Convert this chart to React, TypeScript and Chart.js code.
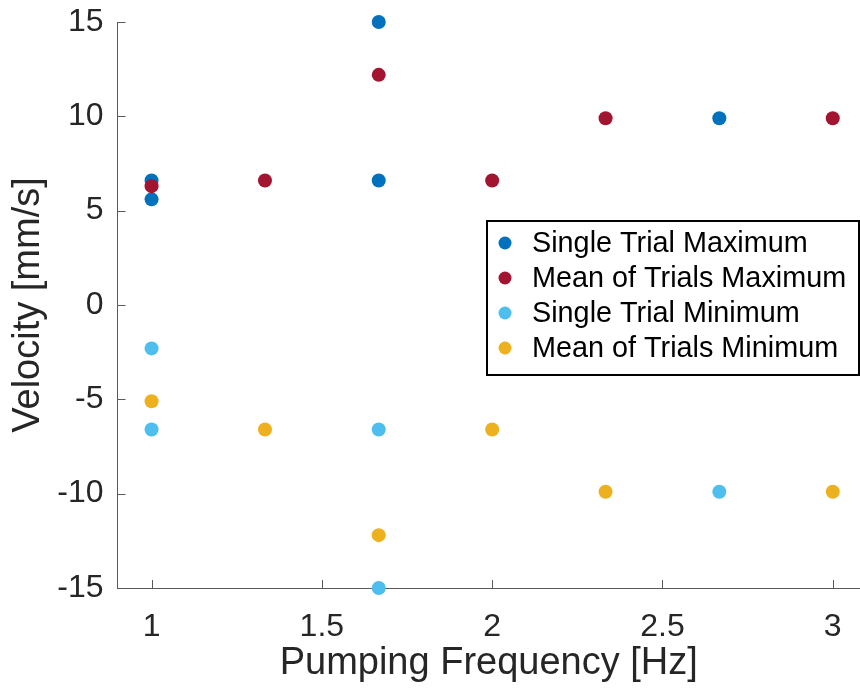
import React, { useEffect, useRef } from 'react';
import { Chart, registerables } from 'chart.js';

Chart.register(...registerables);

const seriesNames = [
  'Single Trial Maximum',
  'Mean of Trials Maximum',
  'Single Trial Minimum',
  'Mean of Trials Minimum',
];
const seriesColors = ['#0072BD', '#A2142F', '#4DBEEE', '#EDB120'];

const singleMaxX = [1, 1, 1.667, 1.667, 2.667];
const singleMaxY = [6.6, 5.6, 15, 6.6, 9.9];
const meanMaxX = [1, 1.333, 1.667, 2, 2.333, 3];
const meanMaxY = [6.3, 6.6, 12.2, 6.6, 9.9, 9.9];
const singleMinX = [1, 1, 1.667, 1.667, 2.667];
const singleMinY = [-2.3, -6.6, -6.6, -15, -9.9];
const meanMinX = [1, 1.333, 1.667, 2, 2.333, 3];
const meanMinY = [-5.1, -6.6, -12.2, -6.6, -9.9, -9.9];

const xTicks = [1, 1.5, 2, 2.5, 3];
const yTicks = [-15, -10, -5, 0, 5, 10, 15];

const xTitle = 'Pumping Frequency [Hz]';
const yTitle = 'Velocity [mm/s]';

const FONT = '"Liberation Sans", Arial, Helvetica, sans-serif';
const TEXT = '#262626';
const AXIS = '#595959';

const toPoints = (xs: number[], ys: number[]) => xs.map((x, i) => ({ x, y: ys[i] }));

const inwardTicks = {
  id: 'inwardTicks',
  beforeDatasetsDraw(chart: any) {
    const { ctx, chartArea, scales } = chart;
    const len = 8;
    ctx.save();
    ctx.strokeStyle = AXIS;
    ctx.lineWidth = 1;
    ctx.beginPath();
    for (const v of xTicks) {
      const px = Math.round(scales.x.getPixelForValue(v)) + 0.5;
      ctx.moveTo(px, chartArea.bottom);
      ctx.lineTo(px, chartArea.bottom - len);
    }
    for (const v of yTicks) {
      const py = Math.round(scales.y.getPixelForValue(v)) + 0.5;
      ctx.moveTo(chartArea.left, py);
      ctx.lineTo(chartArea.left + len, py);
    }
    ctx.stroke();
    ctx.restore();
  },
};

const boxLegend = {
  id: 'boxLegend',
  afterDatasetsDraw(chart: any) {
    const { ctx, chartArea } = chart;
    const left = chartArea.right - 373;
    const top = chartArea.top + 199;
    const w = 372;
    const h = 154;
    ctx.save();
    ctx.fillStyle = '#ffffff';
    ctx.fillRect(left, top, w, h);
    ctx.strokeStyle = '#000000';
    ctx.lineWidth = 2;
    ctx.strokeRect(left, top, w, h);
    ctx.font = `28.8px ${FONT}`;
    ctx.textBaseline = 'middle';
    ctx.textAlign = 'left';
    chart.data.datasets.forEach((ds: any, i: number) => {
      const cy = top + 22 + i * 35;
      ctx.fillStyle = ds.backgroundColor;
      ctx.beginPath();
      ctx.arc(left + 18, cy, 6.5, 0, Math.PI * 2);
      ctx.fill();
      ctx.fillStyle = '#000000';
      ctx.fillText(ds.label, left + 45, cy + 1);
    });
    ctx.restore();
  },
};

export default function App() {
  const ref = useRef<HTMLCanvasElement | null>(null);

  useEffect(() => {
    document.body.style.margin = '0';
    document.body.style.overflow = 'hidden';
    if (!ref.current) return;
    const seriesData = [
      toPoints(singleMaxX, singleMaxY),
      toPoints(meanMaxX, meanMaxY),
      toPoints(singleMinX, singleMinY),
      toPoints(meanMinX, meanMinY),
    ];
    const chart = new Chart(ref.current, {
      type: 'scatter',
      data: {
        datasets: seriesData.map((d, i) => ({
          label: seriesNames[i],
          data: d,
          backgroundColor: seriesColors[i],
          borderWidth: 0,
          pointRadius: 7,
          pointHoverRadius: 7,
          clip: false,
          order: seriesNames.length - i,
        })),
      },
      options: {
        responsive: false,
        animation: false,
        layout: { autoPadding: false, padding: { top: 22, right: 0, left: 0, bottom: 0 } },
        plugins: {
          legend: { display: false },
          tooltip: { enabled: false },
        },
        scales: {
          x: {
            type: 'linear',
            min: 0.9,
            max: 3.08,
            afterBuildTicks: (s: any) => {
              s.ticks = xTicks.map((v) => ({ value: v }));
            },
            afterFit: (s: any) => {
              s.height = 102;
              s.paddingLeft = 0;
              s.paddingRight = 0;
            },
            grid: { display: false },
            border: { display: true, color: AXIS, width: 1 },
            ticks: {
              color: TEXT,
              font: { family: FONT, size: 32 },
              padding: 11.5,
              maxRotation: 0,
              callback: (v: any) => String(v),
            },
            title: {
              display: true,
              text: xTitle,
              color: TEXT,
              font: { family: FONT, size: 38 },
              padding: { top: 0, bottom: 4 },
            },
          },
          y: {
            type: 'linear',
            min: -15,
            max: 15,
            afterBuildTicks: (s: any) => {
              s.ticks = yTicks.map((v) => ({ value: v }));
            },
            afterFit: (s: any) => {
              s.width = 117.5;
              s.paddingTop = 0;
              s.paddingBottom = 0;
            },
            grid: { display: false },
            border: { display: true, color: AXIS, width: 1 },
            ticks: {
              color: TEXT,
              font: { family: FONT, size: 32 },
              padding: 6,
              callback: (v: any) => String(v),
            },
            title: {
              display: true,
              text: yTitle,
              color: TEXT,
              font: { family: FONT, size: 38 },
              padding: { top: 6, bottom: 0 },
            },
          },
        },
      },
      plugins: [inwardTicks, boxLegend],
    });
    return () => chart.destroy();
  }, []);

  return (
    <div style={{ width: 860, height: 690 }}>
      <canvas ref={ref} width={860} height={690} style={{ display: 'block' }} />
    </div>
  );
}
